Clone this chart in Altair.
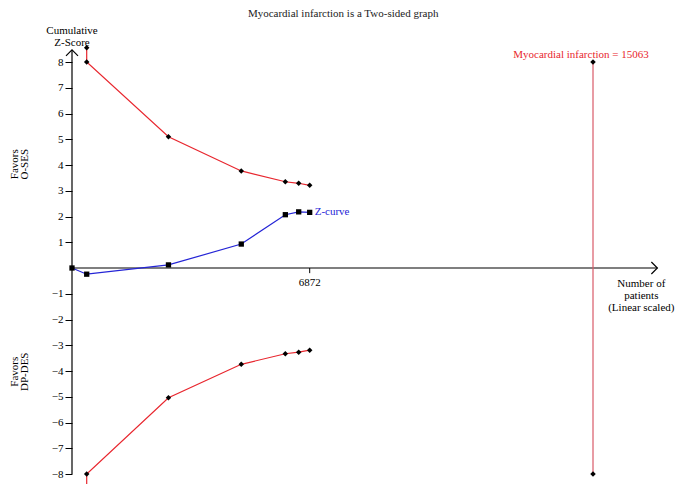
import altair as alt
import pandas as pd

# ---- data ----
z_patients = [0, 425, 2789, 4894, 6168, 6554, 6872]
z_values = [0, -0.24, 0.12, 0.93, 2.07, 2.18, 2.16]

bound_patients = [425, 425, 2789, 4894, 6168, 6554, 6872]
upper_bound = [8.55, 8.0, 5.10, 3.77, 3.35, 3.29, 3.21]
lower_bound = [-8.55, -8.0, -5.04, -3.74, -3.33, -3.27, -3.19]

ris_value = 15063
ris_top, ris_bottom = 8, -8
x_tick = 6872

y_ticks = [-8, -7, -6, -5, -4, -3, -2, -1, 1, 2, 3, 4, 5, 6, 7, 8]

TITLE = "Myocardial infarction is a Two-sided graph"

FONT = "Liberation Serif"
RED = "#e8262e"
BLUE = "#2424d6"
RIS_RED = "#d95a68"

XMAX = 17000
xs = alt.Scale(domain=[0, XMAX], nice=False, zero=False)
ys = alt.Scale(domain=[-8, 8], nice=False, zero=False)

yaxis = alt.Axis(values=y_ticks, domain=False, grid=False, tickSize=7,
                 tickColor="black", labelColor="black", labelFont=FONT,
                 labelFontSize=11, labelPadding=2, title=None)


def X(f="x"):
    return alt.X(f"{f}:Q", scale=xs, axis=None)


def Y(f="y"):
    return alt.Y(f"{f}:Q", scale=ys, axis=yaxis)


def text_layer(x, y, lines, **kw):
    style = dict(font=FONT, fontSize=11, color="black", align="center", baseline="middle")
    style.update(kw)
    return alt.Chart(pd.DataFrame({"x": [x], "y": [y]})).mark_text(text=lines, **style).encode(x=X(), y=Y())


z_df = pd.DataFrame({"x": z_patients, "y": z_values, "i": range(len(z_values))})
up_df = pd.DataFrame({"x": bound_patients, "y": upper_bound, "i": range(len(upper_bound))})
lo_df = pd.DataFrame({"x": bound_patients, "y": lower_bound, "i": range(len(lower_bound))})
ris_df = pd.DataFrame({"x": [ris_value, ris_value], "y": [ris_top, ris_bottom]})

# axes lines
yaxis_line = alt.Chart(pd.DataFrame({"x": [0], "y": [-8], "y2": [8.47]})).mark_rule(
    color="black", strokeWidth=1.2).encode(x=X(), y=Y(), y2="y2:Q")
xaxis_line = alt.Chart(pd.DataFrame({"x": [0], "x2": [16924], "y": [0]})).mark_rule(
    color="black", strokeWidth=1.2).encode(x=X(), x2="x2:Q", y=Y())
y_arrow = alt.Chart(pd.DataFrame({"x": [0], "y": [8.47]})).mark_point(
    shape="M-1,1L0,0L1,1", filled=False, color="black", size=144, strokeWidth=1.2, opacity=1
).encode(x=X(), y=Y())
x_arrow = alt.Chart(pd.DataFrame({"x": [16924], "y": [0]})).mark_point(
    shape="M-1,-1L0,0L-1,1", filled=False, color="black", size=144, strokeWidth=1.2, opacity=1
).encode(x=X(), y=Y())
x_tick_rule = alt.Chart(pd.DataFrame({"x": [x_tick], "y": [0], "y2": [-0.2]})).mark_rule(
    color="black", strokeWidth=1).encode(x=X(), y=Y(), y2="y2:Q")
x_tick_label = alt.Chart(pd.DataFrame({"x": [x_tick], "y": [0], "t": [str(x_tick)]})).mark_text(
    font=FONT, fontSize=11, color="black", baseline="middle", dy=15
).encode(x=X(), y=Y(), text="t:N")

# boundaries
up_line = alt.Chart(up_df).mark_line(color=RED, strokeWidth=1.2).encode(x=X(), y=Y(), order="i:Q")
lo_line = alt.Chart(lo_df).mark_line(color=RED, strokeWidth=1.2).encode(x=X(), y=Y(), order="i:Q")
up_pts = alt.Chart(up_df).mark_point(shape="diamond", filled=True, color="black", size=30, opacity=1).encode(x=X(), y=Y())
lo_pts = alt.Chart(lo_df).mark_point(shape="diamond", filled=True, color="black", size=30, opacity=1).encode(x=X(), y=Y())

# z-curve
z_line = alt.Chart(z_df).mark_line(color=BLUE, strokeWidth=1.2).encode(x=X(), y=Y(), order="i:Q")
z_pts = alt.Chart(z_df).mark_point(shape="square", filled=True, color="black", size=28, opacity=1).encode(x=X(), y=Y())
z_label = alt.Chart(pd.DataFrame({"x": [z_patients[-1]], "y": [z_values[-1]], "t": ["Z-curve"]})).mark_text(
    font=FONT, fontSize=11, color=BLUE, align="left", baseline="middle", dx=5
).encode(x=X(), y=Y(), text="t:N")

# required information size
ris_line = alt.Chart(ris_df).mark_line(color=RIS_RED, strokeWidth=1.2).encode(x=X(), y=Y())
ris_pts = alt.Chart(ris_df).mark_point(shape="diamond", filled=True, color="black", size=30, opacity=1).encode(x=X(), y=Y())
ris_label = alt.Chart(pd.DataFrame({"x": [ris_value], "y": [ris_top], "t": [f"Myocardial infarction = {ris_value}"]})).mark_text(
    font=FONT, fontSize=11, color=RED, align="center", baseline="middle", dx=-12, dy=-7
).encode(x=X(), y=Y(), text="t:N")

# titles and axis annotations
title = text_layer(7840, 9.85, TITLE, color="#222")
ytitle = text_layer(0, 9.22, ["Cumulative", "Z-Score"], lineHeight=12)
fav_up = text_layer(-1650, 4.03, ["Favors", "O-SES"], lineHeight=10, angle=270)
fav_lo = text_layer(-1650, -4.03, ["Favors", "DP-DES"], lineHeight=10, angle=270)
xtitle = text_layer(16460, -0.61, ["Number of", "patients", "(Linear scaled)"], lineHeight=12)

chart = alt.layer(
    yaxis_line, xaxis_line, y_arrow, x_arrow, x_tick_rule, x_tick_label,
    up_line, lo_line, ris_line, z_line,
    up_pts, lo_pts, ris_pts, z_pts,
    z_label, ris_label, title, ytitle, fav_up, fav_lo, xtitle,
).properties(
    width=588, height=412,
    padding={"left": 64, "top": 54, "right": 17, "bottom": 10},
    autosize=alt.AutoSizeParams(type="none"),
).configure_view(stroke=None)

chart.save("out.html", embed_options={"renderer": "svg", "actions": False})
